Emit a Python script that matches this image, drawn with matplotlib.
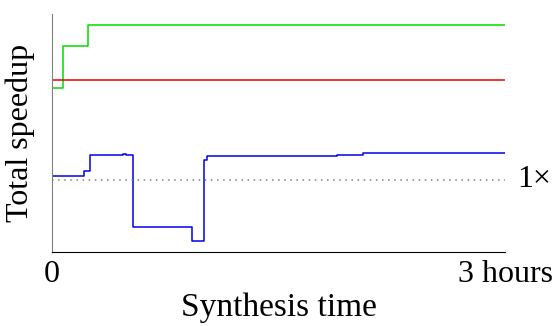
import matplotlib
matplotlib.use("Agg")
import matplotlib.pyplot as plt

plt.rcParams['font.family'] = ['Liberation Serif', 'DejaVu Serif']

# step series (x in hours, y = speedup)
green_x = [0, 0.0, 0.075, 0.236, 3.0]
green_y = [0.69, 2.28, 2.86, 3.15, 3.15]

red_x = [0, 3.0]
red_y = [2.39, 2.39]

blue_x = [0, 0.214, 0.252, 0.468, 0.49, 0.538, 0.925, 1.009, 1.026, 1.885, 2.058, 3.0]
blue_y = [1.05, 1.12, 1.35, 1.36, 1.35, 0.35, 0.15, 1.27, 1.33, 1.35, 1.375, 1.375]

baseline = 1.0
fs = 23

fig = plt.figure(figsize=(5.56, 3.26), dpi=100)
ax = fig.add_axes([0.0935, 0.227, 0.815, 0.73])

ax.step(green_x, green_y, where='post', color='#00dd00', lw=1.1)
ax.step(red_x, red_y, where='post', color='#ee0000', lw=1.1)
ax.step(blue_x, blue_y, where='post', color='#0000ee', lw=1.1)
ax.plot([0, 3.0], [baseline, baseline], ls=(0, (1, 3)), color='gray', lw=1.1)

ax.text(3.08, baseline, '1×', fontsize=fs, va='center', ha='left')

ax.set_xlim(0, 3.0)
ax.set_ylim(0, 3.3)
ax.set_xticks([0, 3.0])
ax.set_xticklabels(['0', '3 hours'], fontsize=fs)
ax.set_yticks([])
ax.tick_params(axis='x', length=0, pad=6)
ax.spines['top'].set_visible(False)
ax.spines['right'].set_visible(False)
ax.spines['left'].set_color('gray')
ax.set_xlabel('Synthesis time', fontsize=24, labelpad=2)
ax.set_ylabel('Total speedup', fontsize=fs, labelpad=12)

fig.savefig('out.png', dpi=100)
